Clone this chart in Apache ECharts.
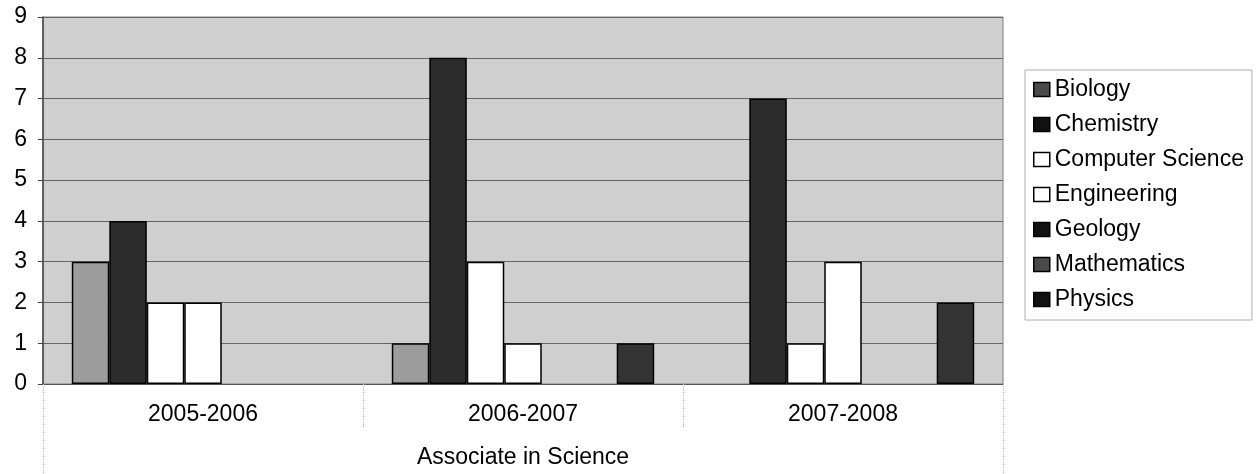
<!DOCTYPE html>
<html>
<head>
<meta charset="utf-8">
<script src="https://cdn.jsdelivr.net/npm/echarts@6/dist/echarts.min.js"></script>
<style>html,body{margin:0;padding:0;background:#fff;}#c{width:1259px;height:474px;}</style>
</head>
<body>
<div id="c"></div>
<script>
const categories = ['2005-2006', '2006-2007', '2007-2008'];
const groupLabel = ['Associate in Science'];
const biology = [3, 1, 0];
const chemistry = [4, 8, 7];
const computerScience = [2, 3, 1];
const engineering = [2, 1, 3];
const geology = [0, 0, 0];
const mathematics = [0, 0, 0];
const physics = [0, 1, 2];
const seriesNames = ['Biology', 'Chemistry', 'Computer Science', 'Engineering', 'Geology', 'Mathematics', 'Physics'];
const seriesData = [biology, chemistry, computerScience, engineering, geology, mathematics, physics];
const seriesColors = ['#9c9c9c', '#2c2c2c', '#ffffff', '#ffffff', '#1a1a1a', '#4a4a4a', '#333333'];
const legendColors = ['#4a4a4a', '#111111', '#ffffff', '#ffffff', '#111111', '#4a4a4a', '#111111'];

const FONT = "'Liberation Sans', Arial, sans-serif";
const chart = echarts.init(document.getElementById('c'), null, {renderer: 'canvas'});
chart.setOption({
  animation: false,
  backgroundColor: '#ffffff',
  textStyle: {fontFamily: FONT, color: '#000'},
  grid: {left: 43, right: 256, top: 17, bottom: 90, show: true, backgroundColor: '#cfcfcf', borderColor: '#808080', borderWidth: 1},
  legend: {
    orient: 'vertical', left: 1025, top: 70,
    padding: [8, 8, 9, 8],
    itemWidth: 16, itemHeight: 14, itemGap: 12,
    borderColor: '#b0b0b0', borderWidth: 1,
    textStyle: {fontFamily: FONT, fontSize: 23, lineHeight: 23, color: '#000'},
    data: seriesNames.map((n, i) => ({name: n, icon: 'rect', itemStyle: {color: legendColors[i], borderColor: '#000', borderWidth: 1.5}}))
  },
  xAxis: [{
    type: 'category', data: categories, position: 'bottom',
    axisLine: {show: true, lineStyle: {color: '#555', width: 1}},
    axisTick: {show: true, interval: 0, length: 44, lineStyle: {color: '#bbbbbb', type: 'dotted'}},
    axisLabel: {interval: 0, margin: 19, fontSize: 23, color: '#000', fontFamily: FONT},
    splitLine: {show: false}
  }, {
    type: 'category', data: groupLabel, position: 'bottom',
    axisLine: {show: false},
    axisTick: {show: true, length: 90, lineStyle: {color: '#bbbbbb', type: 'dotted'}},
    axisLabel: {margin: 62, fontSize: 23, color: '#000', fontFamily: FONT},
    splitLine: {show: false}
  }],
  yAxis: {
    type: 'value', min: 0, max: 9, interval: 1,
    axisLine: {show: true, lineStyle: {color: '#444', width: 1.5}},
    axisTick: {show: true, length: 5, lineStyle: {color: '#444'}},
    axisLabel: {margin: 16, fontSize: 23, color: '#000', fontFamily: FONT},
    splitLine: {show: true, lineStyle: {color: '#666666', width: 1}}
  },
  series: seriesNames.map((n, i) => ({
    name: n, type: 'bar', xAxisIndex: 0,
    barGap: '0%', barCategoryGap: '18%',
    data: seriesData[i].map(v => v === 0 ? '-' : v),
    itemStyle: {color: seriesColors[i], borderColor: '#000', borderWidth: 1.5}
  }))
});
</script>
</body>
</html>
